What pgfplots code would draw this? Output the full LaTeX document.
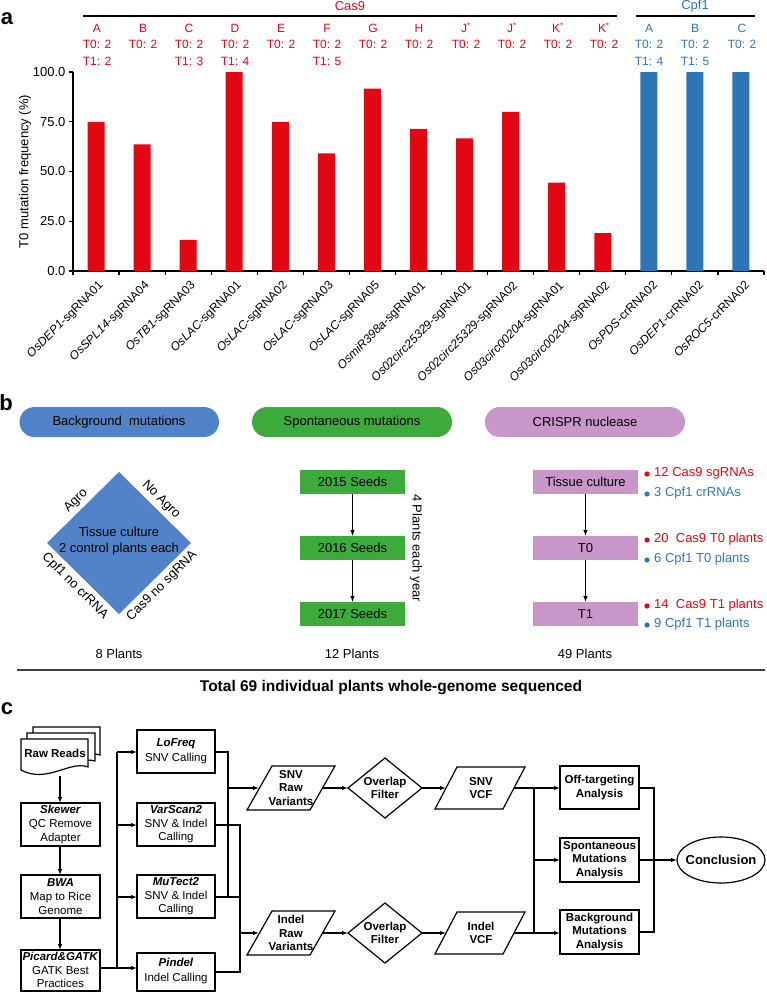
\documentclass[border=0pt]{standalone}
\usepackage{fontspec}
\setmainfont{Liberation Sans}
\usepackage{graphicx}
\usepackage{pgfplots}
\pgfplotsset{compat=1.18}
\usetikzlibrary{arrows.meta}
\definecolor{cred}{RGB}{227,6,19}
\definecolor{cblue}{RGB}{46,117,182}
\definecolor{pblue}{RGB}{82,130,200}
\definecolor{pgreen}{RGB}{61,170,60}
\definecolor{ppurple}{RGB}{200,150,200}
\newcommand\fA{\fontsize{12}{14}\selectfont}
\newcommand\fB{\fontsize{13}{15.5}\selectfont}
\newcommand\fC{\fontsize{11.5}{13.6}\selectfont}
\newcommand\fL{\fontsize{22}{24}\selectfont\bfseries}
\newcommand\rl[2]{\rotatebox{45}{\textit{#1}-#2}}
\begin{document}
\begin{tikzpicture}[x=1pt,y=-1pt,>={Latex[length=6pt,width=4.5pt]}]
\path (0,0) rectangle (766,992);
% ---------------- panel a ----------------
\node[font=\fL] at (7,19) {a};
\begin{axis}[at={(73pt,-271pt)}, anchor=south west, scale only axis,
  width=691pt, height=199pt,
  xmin=-0.5, xmax=14.5, ymin=0, ymax=100,
  axis lines*=left, axis line style={line width=1.2pt},
  tick align=outside, major tick length=4pt,
  tick style={line width=1.2pt, black},
  ytick={0,25,50,75,100},
  yticklabel style={font=\fB, /pgf/number format/.cd, fixed, fixed zerofill, precision=1, assume math mode=true},
  ylabel={T0 mutation frequency (\%)},
  ylabel style={font=\fB, at={(axis description cs:-0.0695,0.5)}, anchor=center},
  xtick={-0.5,0.5,...,14.5}, xticklabels={},
  extra x ticks={0,1,...,14},
  extra x tick style={major tick length=0pt},
  extra x tick labels={\rl{OsDEP1}{sgRNA01},\rl{OsSPL14}{sgRNA04},\rl{OsTB1}{sgRNA03},\rl{OsLAC}{sgRNA01},\rl{OsLAC}{sgRNA02},\rl{OsLAC}{sgRNA03},\rl{OsLAC}{sgRNA05},\rl{OsmiR398a}{sgRNA01},\rl{Os02circ25329}{sgRNA01},\rl{Os02circ25329}{sgRNA02},\rl{Os03circ00204}{sgRNA01},\rl{Os03circ00204}{sgRNA02},\rl{OsPDS}{crRNA02},\rl{OsDEP1}{crRNA02},\rl{OsROC5}{crRNA02}},
  xticklabel style={font=\fA, anchor=north east, inner sep=0pt, xshift=9.5pt, yshift=-9pt},
  clip=false]
\addplot[ybar, bar width=17pt, bar shift=0pt, fill=cred, draw=none] coordinates
  {(0,75) (1,63.6) (2,15.6) (3,100) (4,75) (5,59.1) (6,91.7) (7,71.4) (8,66.7) (9,80) (10,44.4) (11,19.0)};
\addplot[ybar, bar width=17pt, bar shift=0pt, fill=cblue, draw=none] coordinates
  {(12,100) (13,100) (14,100)};
\end{axis}
\draw[line width=1.3pt] (83,16) -- (617,16);
\draw[line width=1.3pt] (636,16) -- (755,16);
\node[cred, font=\fB] at (350,6) {Cas9};
\node[cblue, font=\fB] at (695,6) {Cpf1};
\foreach \x/\l/\t in {97/A/T1: 2, 143/B/, 189/C/T1: 3, 235/D/T1: 4, 281/E/, 327/F/T1: 5, 373/G/, 419/H/, 466/J\textsuperscript{*}/, 512/J\textsuperscript{*}/, 558/K\textsuperscript{*}/, 604/K\textsuperscript{*}/}{
  \node[cred, font=\fA] at (\x,28) {\l};
  \node[cred, font=\fA] at (\x,44) {T0: 2};
  \node[cred, font=\fA] at (\x,61) {\t};
}
\foreach \x/\l/\t in {649/A/T1: 4, 695/B/T1: 5, 742/C/}{
  \node[cblue, font=\fA] at (\x,28) {\l};
  \node[cblue, font=\fA] at (\x,44) {T0: 2};
  \node[cblue, font=\fA] at (\x,61) {\t};
}
% ---------------- panel b ----------------
\node[font=\fL] at (6,403) {b};
\fill[pblue] (34.5,407) rectangle (204,437);
\fill[pblue] (34.5,422) circle (15pt); \fill[pblue] (204,422) circle (15pt);
\fill[pgreen] (267,407) rectangle (437,437);
\fill[pgreen] (267,422) circle (15pt); \fill[pgreen] (437,422) circle (15pt);
\fill[ppurple] (500,407) rectangle (670,437);
\fill[ppurple] (500,422) circle (15pt); \fill[ppurple] (670,422) circle (15pt);
\node[font=\fB] at (119,422) {Background\ \ mutations};
\node[font=\fB] at (352,422) {Spontaneous mutations};
\node[font=\fB] at (585,422) {CRISPR nuclease};
% diamond
\fill[pblue] (119,472) -- (191,543) -- (119,614) -- (47,543) -- cycle;
\node[font=\fB, align=center] at (119,541) {Tissue culture\\[1pt]2 control plants each};
\node[font=\fB, rotate=45] at (76,501) {Agro};
\node[font=\fB, rotate=-45] at (161,500) {No Agro};
\node[font=\fB, rotate=-45] at (75,586) {Cpf1 no crRNA};
\node[font=\fB, rotate=45] at (162,586) {Cas9 no sgRNA};
\node[font=\fB] at (119,654) {8 Plants};
% seeds
\foreach \y/\t in {482/2015 Seeds, 548/2016 Seeds, 614/2017 Seeds}{
  \fill[pgreen] (300,\y-12) rectangle (405,\y+12);
  \node[font=\fB] at (352.5,\y) {\t};
}
\draw[->, line width=1pt] (352.5,494) -- (352.5,536);
\draw[->, line width=1pt] (352.5,560) -- (352.5,602);
\node[font=\fB, rotate=-90] at (416,548) {4 Plants each year};
\node[font=\fB] at (352,654) {12 Plants};
% CRISPR
\foreach \y/\t in {482/Tissue culture, 548/T0, 614/T1}{
  \fill[ppurple] (533,\y-12) rectangle (638,\y+12);
  \node[font=\fB] at (585.5,\y) {\t};
}
\draw[->, line width=1pt] (585.5,494) -- (585.5,536);
\draw[->, line width=1pt] (585.5,560) -- (585.5,602);
\foreach \y/\c/\t in {473/cred/12 Cas9 sgRNAs, 493/cblue/3 Cpf1 crRNAs, 539/cred/20\ \ Cas9 T0 plants, 559/cblue/6 Cpf1 T0 plants, 605/cred/14\ \ Cas9 T1 plants, 624/cblue/9 Cpf1 T1 plants}{
  \fill[\c] (647,\y+1) circle (2.6pt);
  \node[\c, font=\fB, anchor=west, inner sep=0pt] at (654,\y) {\t};
}
\node[font=\fB] at (585,654) {49 Plants};
\draw[line width=2pt, black!75] (17,670) -- (765,670);
\node[font=\fontsize{15.5}{18}\selectfont\bfseries] at (391,688) {Total 69 individual plants whole-genome sequenced};
% ---------------- panel c ----------------
\node[font=\fL] at (7,709) {c};
\begin{scope}[line width=1.2pt]
% document stack
\filldraw[fill=white] (33,727) -- (100,727) -- (100,755) .. controls (85,750) and (62,770) .. (33,758) -- cycle;
\filldraw[fill=white] (27,733) -- (95,733) -- (95,761) .. controls (78,756) and (55,776) .. (27,764) -- cycle;
\filldraw[fill=white] (21,739) -- (88,739) -- (88,767) .. controls (70,760) and (47,784) .. (21,770) -- cycle;
\node[font=\fC\bfseries] at (55,753) {Raw Reads};
\draw[->] (60,776) -- (60,803);
% left column
\draw (21,803) rectangle (100,846);
\node[font=\fC, align=center] at (60.5,824.5) {\textbf{\textit{Skewer}}\\QC Remove\\Adapter};
\draw[->] (60,846) -- (60,875);
\draw (21,875) rectangle (100,918);
\node[font=\fC, align=center] at (60.5,896.5) {\textbf{\textit{BWA}}\\Map to Rice\\Genome};
\draw[->] (60,918) -- (60,950);
\draw (21,950) rectangle (100,991);
\node[font=\fC, align=center] at (60.5,970) {\textbf{\textit{Picard\&GATK}}\\GATK Best\\Practices};
% middle column
\draw (137,730) rectangle (215,773);
\node[font=\fC, align=center] at (176,751.5) {\textbf{\textit{LoFreq}}\\[1pt]SNV Calling};
\draw (137,803) rectangle (215,846);
\node[font=\fC, align=center] at (176,824.5) {\textbf{\textit{VarScan2}}\\SNV \& Indel\\Calling};
\draw (137,875) rectangle (215,918);
\node[font=\fC, align=center] at (176,896.5) {\textbf{\textit{MuTect2}}\\SNV \& Indel\\Calling};
\draw (137,953) rectangle (215,991);
\node[font=\fC, align=center] at (176,971) {\textbf{\textit{Pindel}}\\[1pt]Indel Calling};
% bus from Picard
\draw (100,968) -- (117,968);
\draw (117,752) -- (117,968);
\draw[->] (117,752) -- (137,752);
\draw[->] (117,825) -- (137,825);
\draw[->] (117,897) -- (137,897);
\draw[->] (117,968) -- (137,968);
% SNV bus
\draw (215,752) -- (228,752) -- (228,897);
\draw (215,897) -- (240,897);
\draw[->] (228,788) -- (259,788);
% Indel bus
\draw (215,825) -- (240,825) -- (240,972) -- (215,972);
\draw[->] (240,933) -- (259,933);
% raw variants parallelograms
\draw (247,810) -- (272,766) -- (335,766) -- (310,810) -- cycle;
\node[font=\fC\bfseries, align=center] at (291,788) {SNV\\Raw\\Variants};
\draw (247,955) -- (272,911) -- (335,911) -- (310,955) -- cycle;
\node[font=\fC\bfseries, align=center] at (291,933) {Indel\\Raw\\Variants};
\draw[->] (322.5,788) -- (348,788);
\draw[->] (322.5,933) -- (348,933);
% overlap diamonds
\draw (348,788) -- (385,758) -- (422,788) -- (385,818) -- cycle;
\node[font=\fC\bfseries, align=center] at (385,788) {Overlap\\Filter};
\draw (348,933) -- (385,903) -- (422,933) -- (385,963) -- cycle;
\node[font=\fC\bfseries, align=center] at (385,933) {Overlap\\Filter};
\draw[->] (422,788) -- (446,788);
\draw[->] (422,933) -- (446,933);
% VCF parallelograms
\draw (435,809) -- (457,767) -- (525,767) -- (503,809) -- cycle;
\node[font=\fC\bfseries, align=center] at (481,788) {SNV\\VCF};
\draw (435,954) -- (457,912) -- (525,912) -- (503,954) -- cycle;
\node[font=\fC\bfseries, align=center] at (481,933) {Indel\\VCF};
% analysis bus
\draw (514,788) -- (534,788);
\draw (514,933) -- (534,933);
\draw (534,788) -- (534,933);
\draw[->] (534,788) -- (560,788);
\draw[->] (534,860) -- (560,860);
\draw[->] (534,933) -- (560,933);
\draw (560,766) rectangle (639,809);
\node[font=\fC\bfseries, align=center] at (599.5,787.5) {Off-targeting\\[1pt]Analysis};
\draw (560,838) rectangle (639,882);
\node[font=\fC\bfseries, align=center] at (599.5,860) {Spontaneous\\Mutations\\Analysis};
\draw (560,910) rectangle (639,954);
\node[font=\fC\bfseries, align=center] at (599.5,932) {Background\\Mutations\\Analysis};
\draw (639,788) -- (654,788) -- (654,932) -- (639,932);
\draw[->] (639,860) -- (677,860);
\draw (721,860) ellipse [x radius=44pt, y radius=23pt];
\node[font=\fontsize{13}{15}\selectfont\bfseries] at (721,860) {Conclusion};
\end{scope}
\pgfresetboundingbox
\useasboundingbox (0,0) rectangle (766,992);
\end{tikzpicture}
\end{document}
